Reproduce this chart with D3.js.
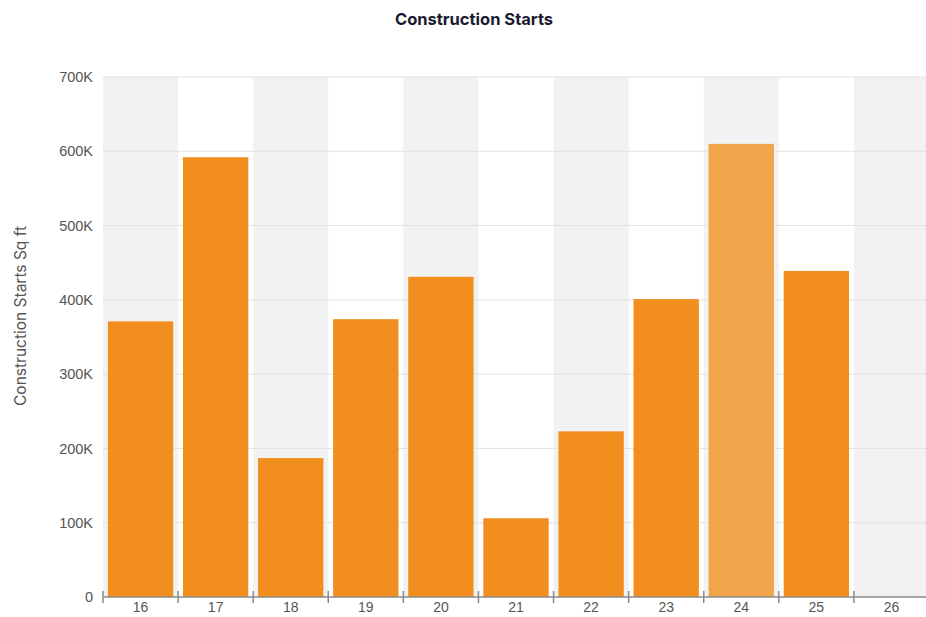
<!DOCTYPE html>
<html>
<head>
<meta charset="utf-8">
<script src="https://cdn.jsdelivr.net/npm/d3@7"></script>
<style>
  body { margin: 0; background: #fff; }
  svg { font-family: Inter, "Noto Sans", sans-serif; }
</style>
</head>
<body>
<svg id="chart" width="926" height="617"></svg>
<script>
var years = ["16", "17", "18", "19", "20", "21", "22", "23", "24", "25", "26"];
var starts = [371000, 592000, 187000, 374000, 431000, 106000, 223000, 401000, 610000, 439000, null];
var yTicks = [0, 100000, 200000, 300000, 400000, 500000, 600000, 700000];
var highlighted = "24";

var svg = d3.select("#chart");
var margin = {top: 77, right: -3, bottom: 20, left: 103};
var width = +svg.attr("width") - margin.left - margin.right;
var height = +svg.attr("height") - margin.top - margin.bottom;
var g = svg.append("g").attr("transform", "translate(" + margin.left + "," + margin.top + ")");

var x = d3.scaleBand()
    .domain(years)
    .range([0, width])
    .paddingInner(0.13)
    .paddingOuter(0.065);

var band = d3.scaleBand().domain(years).range([0, width]);

var y = d3.scaleLinear()
    .domain([0, 700000])
    .range([height, 0]);

// alternating background bands
g.selectAll(".stripe")
  .data(years.filter(function(d, i) { return i % 2 === 0; }))
  .enter().append("rect")
    .attr("class", "stripe")
    .attr("x", function(d) { return band(d); })
    .attr("y", 0)
    .attr("width", band.bandwidth())
    .attr("height", height)
    .attr("fill", "#f2f2f2");

// gridlines
g.selectAll(".grid")
  .data(yTicks.slice(1))
  .enter().append("line")
    .attr("class", "grid")
    .attr("x1", 0)
    .attr("x2", width)
    .attr("y1", function(d) { return y(d); })
    .attr("y2", function(d) { return y(d); })
    .attr("stroke", "#e2e2e2")
    .attr("stroke-width", 1);

// bars
var data = years.map(function(d, i) { return {year: d, value: starts[i]}; })
  .filter(function(d) { return d.value != null; });

g.selectAll(".bar")
  .data(data)
  .enter().append("rect")
    .attr("class", "bar")
    .attr("x", function(d) { return x(d.year); })
    .attr("y", function(d) { return y(d.value); })
    .attr("width", x.bandwidth())
    .attr("height", function(d) { return height - y(d.value); })
    .attr("fill", function(d) { return d.year === highlighted ? "#f0a54a" : "#f28e1e"; });

// y axis labels
var yAxis = g.append("g")
    .call(d3.axisLeft(y).tickValues(yTicks).tickSize(0).tickPadding(10)
      .tickFormat(function(d) { return d === 0 ? "0" : d3.format("d")(d / 1000) + "K"; }));
yAxis.select(".domain").remove();
yAxis.selectAll("text")
    .attr("fill", "#555")
    .style("font-size", "14.5px");

// x axis
var xAxis = g.append("g")
    .attr("transform", "translate(0," + height + ")")
    .call(d3.axisBottom(x).tickSize(0).tickPadding(5));
xAxis.select(".domain").attr("stroke", "#8a8a8a").attr("stroke-width", 1.5)
    .attr("d", "M0,0H" + width);
xAxis.selectAll("text")
    .attr("fill", "#555")
    .style("font-size", "14px");

g.append("g").selectAll("line")
  .data(years)
  .enter().append("line")
    .attr("x1", function(d) { return band(d); })
    .attr("x2", function(d) { return band(d); })
    .attr("y1", height - 6)
    .attr("y2", height + 6)
    .attr("stroke", "#8a8a8a")
    .attr("stroke-width", 1.5);

// y axis title
svg.append("text")
    .attr("transform", "translate(26,316) rotate(-90)")
    .attr("text-anchor", "middle")
    .attr("fill", "#555")
    .style("font-size", "15.5px")
    .text("Construction Starts Sq ft");

// title
svg.append("text")
    .attr("x", 474)
    .attr("y", 25)
    .attr("text-anchor", "middle")
    .attr("fill", "#1b1b2f")
    .style("font-size", "16.5px")
    .style("font-weight", "bold")
    .text("Construction Starts");
</script>
</body>
</html>
